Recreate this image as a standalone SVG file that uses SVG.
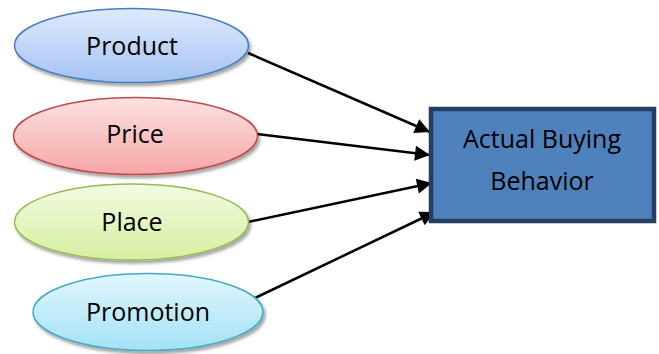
<svg xmlns="http://www.w3.org/2000/svg" width="659" height="354" viewBox="0 0 659 354">
<defs>
<style>
.lbl{font-family:"Open Sans","Liberation Sans",sans-serif;font-size:25px;fill:#000;text-anchor:middle}
.conn line{stroke:#000;stroke-width:2.5;marker-end:url(#ah)}
</style>
<filter id="sh" x="-10%" y="-20%" width="120%" height="150%">
<feDropShadow dx="2" dy="3" stdDeviation="1.5" flood-color="#000" flood-opacity="0.35"/>
</filter>
<linearGradient id="gBlue" x1="0" y1="0" x2="0" y2="1"><stop offset="0" stop-color="#dfeafc"/><stop offset="1" stop-color="#a4c3f3"/></linearGradient>
<linearGradient id="gRed" x1="0" y1="0" x2="0" y2="1"><stop offset="0" stop-color="#fde2e2"/><stop offset="1" stop-color="#f5a6a5"/></linearGradient>
<linearGradient id="gGreen" x1="0" y1="0" x2="0" y2="1"><stop offset="0" stop-color="#f2fbe3"/><stop offset="1" stop-color="#d6ef9f"/></linearGradient>
<linearGradient id="gCyan" x1="0" y1="0" x2="0" y2="1"><stop offset="0" stop-color="#e2f7fd"/><stop offset="1" stop-color="#a3e2f6"/></linearGradient>
<marker id="ah" viewBox="0 0 10 10" refX="10" refY="5" markerWidth="6.5" markerHeight="6" markerUnits="strokeWidth" orient="auto">
<path d="M0,0 L10,5 L0,10 Z" fill="#000"/>
</marker>
</defs>
<rect width="659" height="354" fill="#fff"/>
<g class="conn" id="connectors">
<line x1="248" y1="53" x2="430" y2="132"/>
<line x1="257" y1="134" x2="430" y2="155"/>
<line x1="248" y1="222" x2="432" y2="183"/>
<line x1="255" y1="298" x2="435" y2="212"/>
</g>
<g id="product">
<ellipse cx="131.5" cy="45.5" rx="117" ry="37" fill="url(#gBlue)" stroke="#4a7ebb" stroke-width="1.5" filter="url(#sh)"/>
<text class="lbl" x="132" y="55">Product</text>
</g>
<g id="price">
<ellipse cx="135.5" cy="136" rx="122" ry="38.5" fill="url(#gRed)" stroke="#be4b48" stroke-width="1.5" filter="url(#sh)"/>
<text class="lbl" x="135" y="143">Price</text>
</g>
<g id="place">
<ellipse cx="131.5" cy="222" rx="117" ry="38" fill="url(#gGreen)" stroke="#98b954" stroke-width="1.5" filter="url(#sh)"/>
<text class="lbl" x="132" y="231">Place</text>
</g>
<g id="promotion">
<ellipse cx="148" cy="312" rx="115" ry="38.5" fill="url(#gCyan)" stroke="#46aac5" stroke-width="1.5" filter="url(#sh)"/>
<text class="lbl" x="148" y="321">Promotion</text>
</g>
<g id="actual-buying-behavior">
<rect x="431" y="109" width="223" height="112" fill="#4f81bd" stroke="#243f60" stroke-width="4.5"/>
<text class="lbl" x="542" y="148">Actual Buying</text>
<text class="lbl" x="542" y="190">Behavior</text>
</g>
</svg>
